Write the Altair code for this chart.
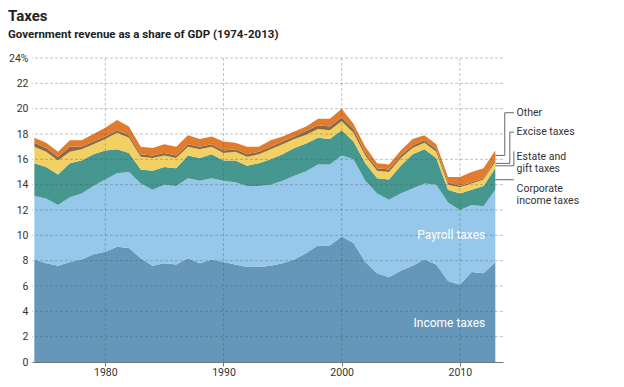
import altair as alt
import pandas as pd

# ---------------- data (share of GDP, %) ----------------
years = list(range(1974, 2014))
income = [8.1, 7.8, 7.6, 7.9, 8.1, 8.5, 8.7, 9.1, 9.0, 8.2,
          7.6, 7.8, 7.7, 8.2, 7.8, 8.1, 7.9, 7.7, 7.5, 7.5,
          7.6, 7.8, 8.1, 8.6, 9.2, 9.2, 9.9, 9.4, 7.9, 7.0,
          6.7, 7.2, 7.6, 8.1, 7.7, 6.4, 6.1, 7.1, 7.0, 7.9]
payroll = [5.0, 5.1, 4.8, 5.1, 5.2, 5.4, 5.7, 5.8, 6.0, 5.9,
           6.0, 6.2, 6.2, 6.3, 6.5, 6.4, 6.4, 6.5, 6.4, 6.4,
           6.4, 6.5, 6.6, 6.45, 6.4, 6.4, 6.4, 6.6, 6.4, 6.3,
           6.1, 6.1, 6.1, 6.0, 6.3, 6.2, 5.9, 5.3, 5.3, 5.7]
corporate = [2.6, 2.5, 2.4, 2.7, 2.6, 2.5, 2.3, 1.9, 1.5, 1.1,
             1.5, 1.4, 1.4, 1.8, 1.8, 1.9, 1.6, 1.7, 1.6, 1.8,
             2.0, 2.1, 2.2, 2.2, 2.1, 2.0, 2.0, 1.4, 1.4, 1.2,
             1.6, 2.2, 2.7, 2.7, 2.1, 1.0, 1.3, 1.2, 1.6, 1.7]
excise = [1.3, 1.2, 1.1, 0.9, 0.9, 0.8, 0.9, 1.3, 1.2, 1.0,
          1.0, 0.9, 0.8, 0.7, 0.7, 0.6, 0.6, 0.7, 0.7, 0.7,
          0.8, 0.8, 0.7, 0.7, 0.7, 0.7, 0.7, 0.7, 0.6, 0.6,
          0.6, 0.6, 0.5, 0.5, 0.5, 0.4, 0.5, 0.5, 0.5, 0.5]
estate = [0.3, 0.3, 0.3, 0.4, 0.2, 0.2, 0.2, 0.2, 0.2, 0.2,
          0.2, 0.2, 0.2, 0.2, 0.2, 0.2, 0.2, 0.2, 0.2, 0.2,
          0.2, 0.2, 0.2, 0.3, 0.3, 0.3, 0.3, 0.3, 0.2, 0.2,
          0.2, 0.2, 0.2, 0.2, 0.2, 0.2, 0.1, 0.1, 0.1, 0.2]
other = [0.4, 0.4, 0.4, 0.5, 0.5, 0.6, 0.7, 0.8, 0.7, 0.6,
         0.6, 0.7, 0.7, 0.7, 0.6, 0.6, 0.7, 0.5, 0.6, 0.4,
         0.5, 0.4, 0.4, 0.35, 0.5, 0.6, 0.7, 0.4, 0.5, 0.4,
         0.4, 0.4, 0.5, 0.4, 0.4, 0.4, 0.7, 0.8, 0.8, 0.7]

categories = ["Income taxes", "Payroll taxes", "Corporate income taxes",
              "Excise taxes", "Estate and gift taxes", "Other"]
colors = ["#6497b9", "#95c8ea", "#46978f", "#f2d062", "#8b6b45", "#e17c2f"]

x_ticks = [1980, 1990, 2000, 2010]
y_ticks = list(range(0, 25, 2))

title_text = "Taxes"
subtitle_text = "Government revenue as a share of GDP (1974-2013)"

# in-area labels
inner_labels = ["Payroll taxes", "Income taxes"]
inner_year = [2012.15, 2012.15]
inner_value = [10.05, 3.05]

# right-side annotation labels (positions in data units)
ann_text = ["Other", "Excise taxes", "Estate and\ngift taxes", "Corporate\nincome taxes"]
ann_year = [2014.8, 2014.8, 2014.8, 2014.8]
ann_value = [19.68, 18.15, 16.17, 13.65]

# leader line segments: (year, value) -> (year2, value2)
seg_year = [2013.0, 2013.8, 2013.8, 2013.0, 2014.23, 2014.23, 2013.0, 2014.57, 2013.0]
seg_year2 = [2013.8, 2013.8, 2014.57, 2014.23, 2014.23, 2014.57, 2014.57, 2014.57, 2014.57]
seg_value = [16.31, 16.31, 19.68, 15.68, 15.68, 18.15, 15.49, 15.49, 14.39]
seg_value2 = [16.31, 19.68, 19.68, 15.68, 18.15, 18.15, 15.49, 16.63, 14.39]

# ---------------- tables ----------------
series = [income, payroll, corporate, excise, estate, other]
rows = []
for rank, (name, vals) in enumerate(zip(categories, series)):
    for yr, v in zip(years, vals):
        rows.append({"year": yr, "value": v, "category": name, "rank": rank})
df = pd.DataFrame(rows)

FONT = "Roboto, Liberation Sans, sans-serif"

x_scale = alt.Scale(domain=[1973.8, 2013.65], nice=False, zero=False)
y_scale = alt.Scale(domain=[0, 24], nice=False)

x_axis = alt.Axis(
    values=x_ticks, format="d", title=None, grid=False, labelOverlap=False,
    domainColor="#777", tickColor="#777", tickSize=4, labelPadding=1,
    labelFont=FONT, labelFontSize=10.5, labelColor="#333", zindex=1)
y_axis = alt.Axis(
    values=y_ticks, title=None, grid=False, domain=False, ticks=False,
    labelOverlap=False, labelPadding=4, labelFont=FONT, labelFontSize=10.5,
    labelColor="#333",
    labelExpr="datum.value == 24 ? '24%' : datum.label", zindex=1)

areas = alt.Chart(df).mark_area(interpolate="linear").encode(
    x=alt.X("year:Q", scale=x_scale, title=None, axis=x_axis),
    y=alt.Y("value:Q", stack="zero", scale=y_scale, title=None, axis=y_axis),
    color=alt.Color("category:N", scale=alt.Scale(domain=categories, range=colors), legend=None),
    order=alt.Order("rank:Q", sort="ascending"),
)

# dashed gridlines drawn over the areas, under the labels
hgrid = alt.Chart(pd.DataFrame({"value": y_ticks[1:]})).mark_rule(
    color="#555", opacity=0.35, strokeDash=[3, 2], strokeWidth=1
).encode(y=alt.Y("value:Q", scale=y_scale, title=None, axis=y_axis))
vgrid = alt.Chart(pd.DataFrame({"year": x_ticks})).mark_rule(
    color="#555", opacity=0.35, strokeDash=[3, 2], strokeWidth=1
).encode(x=alt.X("year:Q", scale=x_scale, title=None, axis=x_axis))

inner_df = pd.DataFrame({"year": inner_year, "value": inner_value, "label": inner_labels})
inner = alt.Chart(inner_df).mark_text(
    align="right", baseline="middle", font=FONT, fontSize=12, color="white"
).encode(
    x=alt.X("year:Q", scale=x_scale, title=None, axis=x_axis),
    y=alt.Y("value:Q", scale=y_scale, title=None, axis=y_axis),
    text="label:N",
)

ann_df = pd.DataFrame({"year": ann_year, "value": ann_value, "label": ann_text})
ann = alt.Chart(ann_df).mark_text(
    align="left", baseline="middle", font=FONT, fontSize=10.5, color="#333",
    lineBreak="\n", lineHeight=12
).encode(
    x=alt.X("year:Q", scale=x_scale, title=None, axis=x_axis),
    y=alt.Y("value:Q", scale=y_scale, title=None, axis=y_axis),
    text="label:N",
)

seg_df = pd.DataFrame({"year": seg_year, "year2": seg_year2,
                       "value": seg_value, "value2": seg_value2})
leaders = alt.Chart(seg_df).mark_rule(color="#666", strokeWidth=1).encode(
    x=alt.X("year:Q", scale=x_scale, title=None, axis=x_axis),
    x2="year2:Q",
    y=alt.Y("value:Q", scale=y_scale, title=None, axis=y_axis),
    y2="value2:Q",
)

title_df = pd.DataFrame({"t": [title_text]})
title = alt.Chart(title_df).mark_text(
    align="left", baseline="alphabetic", font=FONT, fontSize=15,
    fontWeight="bold", color="#222"
).encode(text="t:N", x=alt.value(-24), y=alt.value(-37))

sub_df = pd.DataFrame({"t": [subtitle_text]})
subtitle = alt.Chart(sub_df).mark_text(
    align="left", baseline="alphabetic", font=FONT, fontSize=11.5,
    fontWeight="bold", color="#222"
).encode(text="t:N", x=alt.value(-24), y=alt.value(-20))

chart = alt.layer(areas, hgrid, vgrid, inner, leaders, ann, title, subtitle).properties(
    width=471, height=304,
    autosize=alt.AutoSizeParams(type="none"),
    padding={"left": 24, "top": 50, "right": 113, "bottom": 17},
    background="white",
).configure_view(stroke=None)

chart.save("out.html", embed_options={"renderer": "svg", "actions": False})
